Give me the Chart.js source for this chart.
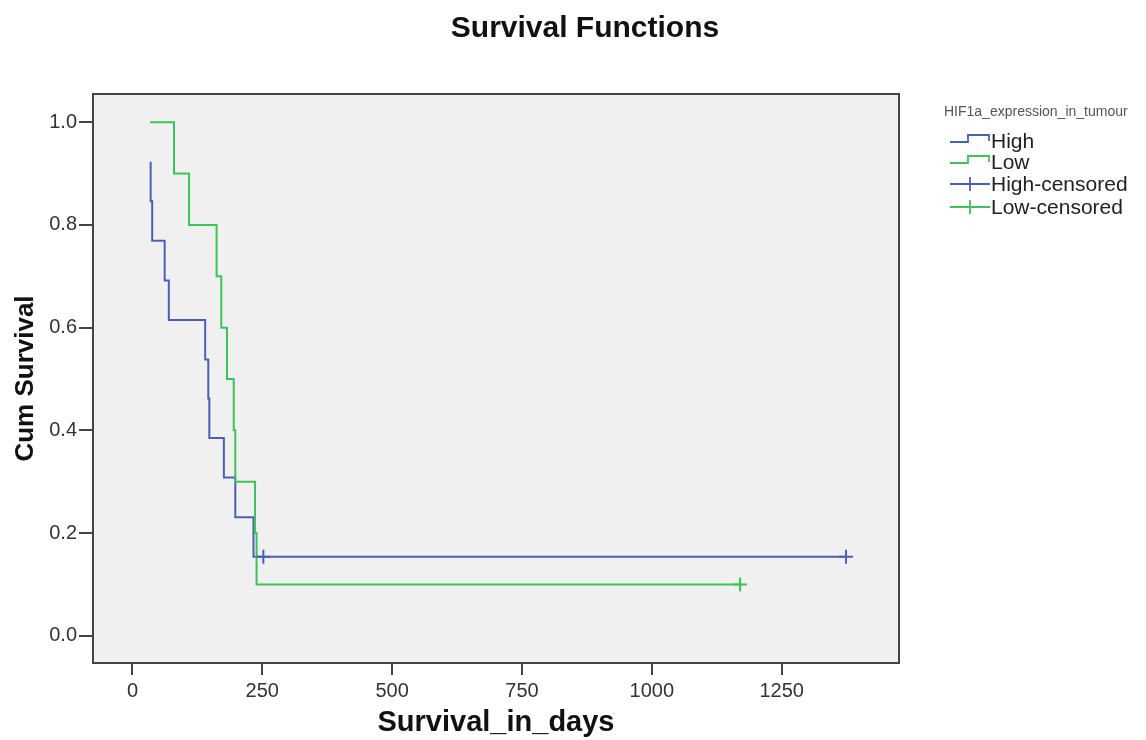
<!DOCTYPE html>
<html>
<head>
<meta charset="utf-8">
<script src="https://cdn.jsdelivr.net/npm/chart.js@4.4.1/dist/chart.umd.min.js"></script>
<style>
  html, body { margin: 0; padding: 0; background: #fff; }
  #wrap { width: 1146px; height: 740px; }
</style>
</head>
<body>
<div id="wrap"><canvas id="kmChart" width="1146" height="740"></canvas></div>
<script>
// survival data (days, cumulative survival)
const highTimes = [35, 35, 38, 62, 70, 140, 146, 148, 176, 198, 233];
const highSurv = [0.923, 0.846, 0.769, 0.692, 0.615, 0.538, 0.462, 0.385, 0.308, 0.231, 0.154];
const highCensorTimes = [252, 1374];
const highCensorSurv = [0.154, 0.154];

const lowTimes = [34, 80, 109, 162, 171, 182, 195, 198, 236, 239];
const lowSurv = [1.0, 0.9, 0.8, 0.7, 0.6, 0.5, 0.4, 0.3, 0.2, 0.1];
const lowCensorTimes = [1170];
const lowCensorSurv = [0.1];

const xTicks = [0, 250, 500, 750, 1000, 1250];
const yTicks = [0, 0.2, 0.4, 0.6, 0.8, 1.0];

const chartTitle = 'Survival Functions';
const legendTitle = 'HIF1a_expression_in_tumour';
const legendLabels = ['High', 'Low', 'High-censored', 'Low-censored'];

const BLUE = '#4a60b6';
const GREEN = '#3ec25a';
const FONT = '"Liberation Sans", Arial, sans-serif';

function toPoints(xs, ys) {
  return xs.map((x, i) => ({ x: x, y: ys[i] }));
}

// step line runs on to the last censored time
const highLine = toPoints(highTimes, highSurv).concat({ x: highCensorTimes[highCensorTimes.length - 1], y: highCensorSurv[highCensorSurv.length - 1] });
const lowLine = toPoints(lowTimes, lowSurv).concat({ x: lowCensorTimes[lowCensorTimes.length - 1], y: lowCensorSurv[lowCensorSurv.length - 1] });

// plot background, frame, title and the right-hand legend
const spssLook = {
  id: 'spssLook',
  beforeDraw(chart) {
    const { ctx, chartArea: a } = chart;
    ctx.save();
    ctx.fillStyle = '#f0f0f0';
    ctx.fillRect(a.left, a.top, a.right - a.left, a.bottom - a.top);
    ctx.restore();
  },
  afterDraw(chart) {
    const { ctx, chartArea: a } = chart;
    ctx.save();
    ctx.strokeStyle = '#444';
    ctx.lineWidth = 2;
    ctx.strokeRect(a.left, a.top, a.right - a.left, a.bottom - a.top);

    ctx.fillStyle = '#111';
    ctx.font = 'bold 30px ' + FONT;
    ctx.textAlign = 'center';
    ctx.textBaseline = 'middle';
    ctx.fillText(chartTitle, 585, 29);

    // legend
    ctx.fillStyle = '#555';
    ctx.font = '14px ' + FONT;
    ctx.textAlign = 'left';
    ctx.fillText(legendTitle, 944, 112);

    const rows = [141, 162, 184, 207];
    const colors = [BLUE, GREEN, BLUE, GREEN];
    ctx.font = '21px ' + FONT;
    rows.forEach((y, i) => {
      ctx.strokeStyle = colors[i];
      ctx.lineWidth = 1.8;
      ctx.beginPath();
      if (i < 2) {
        ctx.moveTo(950, y + 1);
        ctx.lineTo(968, y + 1);
        ctx.lineTo(968, y - 6);
        ctx.lineTo(989, y - 6);
        ctx.lineTo(989, y);
      } else {
        ctx.moveTo(950, y);
        ctx.lineTo(990, y);
        ctx.moveTo(970, y - 7);
        ctx.lineTo(970, y + 7);
      }
      ctx.stroke();
      ctx.fillStyle = '#222';
      ctx.fillText(legendLabels[i], 991, y + 1);
    });
    ctx.restore();
  }
};

new Chart(document.getElementById('kmChart'), {
  type: 'scatter',
  data: {
    datasets: [
      {
        label: 'High',
        data: highLine,
        showLine: true,
        stepped: 'before',
        borderColor: BLUE,
        borderWidth: 2,
        pointRadius: 0,
        order: 2
      },
      {
        label: 'Low',
        data: lowLine,
        showLine: true,
        stepped: 'before',
        borderColor: GREEN,
        borderWidth: 2,
        pointRadius: 0,
        order: 1
      },
      {
        label: 'High-censored',
        data: toPoints(highCensorTimes, highCensorSurv),
        showLine: false,
        pointStyle: 'cross',
        pointRadius: 7,
        borderColor: BLUE,
        borderWidth: 2,
        order: 0
      },
      {
        label: 'Low-censored',
        data: toPoints(lowCensorTimes, lowCensorSurv),
        showLine: false,
        pointStyle: 'cross',
        pointRadius: 7,
        borderColor: GREEN,
        borderWidth: 2,
        order: 0
      }
    ]
  },
  options: {
    responsive: false,
    animation: false,
    layout: { padding: { left: 0, right: 247, top: 94, bottom: 0 } },
    plugins: {
      legend: { display: false },
      tooltip: { enabled: false },
      title: { display: false }
    },
    scales: {
      x: {
        type: 'linear',
        min: -76,
        max: 1476,
        afterBuildTicks: s => { s.ticks = xTicks.map(v => ({ value: v })); },
        afterFit: s => { s.height = 77; },
        grid: { drawOnChartArea: false, drawTicks: true, tickLength: 12, color: '#444', lineWidth: 2 },
        border: { display: true, color: '#444', width: 2 },
        ticks: { color: '#333', padding: 4, maxRotation: 0, font: { family: FONT, size: 20 }, callback: v => String(v) },
        title: {
          display: true,
          text: 'Survival_in_days',
          color: '#111',
          font: { family: FONT, size: 29, weight: 'bold' },
          padding: { top: 1, bottom: 0 }
        }
      },
      y: {
        min: -0.053,
        max: 1.055,
        afterBuildTicks: s => { s.ticks = yTicks.map(v => ({ value: v })); },
        afterFit: s => { s.width = 93; },
        grid: { drawOnChartArea: false, drawTicks: true, tickLength: 14, color: '#444', lineWidth: 2 },
        border: { display: true, color: '#444', width: 2 },
        ticks: { color: '#333', padding: 2, font: { family: FONT, size: 20 }, callback: v => v.toFixed(1) },
        title: {
          display: true,
          text: 'Cum Survival',
          color: '#111',
          font: { family: FONT, size: 26, weight: 'bold' },
          padding: { top: 10, bottom: 0 }
        }
      }
    }
  },
  plugins: [spssLook]
});
</script>
</body>
</html>
